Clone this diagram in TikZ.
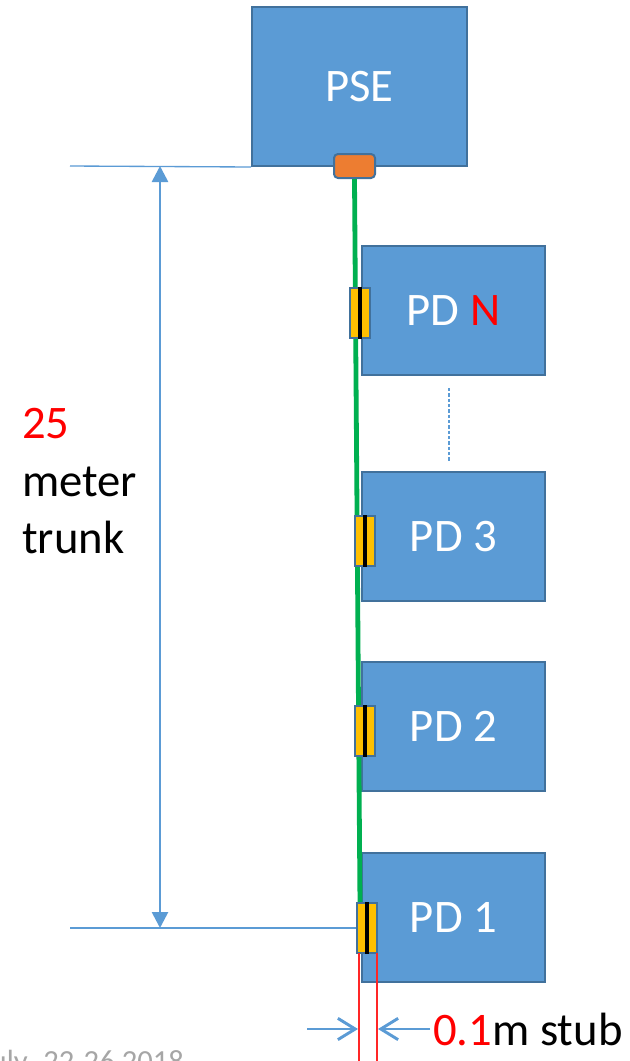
\documentclass[tikz,border=0pt]{standalone}
\usepackage{fontspec}
\setmainfont{Carlito}
\usetikzlibrary{arrows.meta}
\definecolor{boxblue}{HTML}{5B9BD5}
\definecolor{boxedge}{HTML}{41719C}
\definecolor{plugorange}{HTML}{ED7D31}
\definecolor{tapyellow}{HTML}{FFC000}
\definecolor{trunkgreen}{HTML}{00B050}
\definecolor{datagray}{HTML}{A6A6A6}
\tikzset{
  unitbox/.style={draw=boxedge, fill=boxblue, line width=1.5pt, inner sep=0pt,
    text=white, font=\fontsize{35}{42}\selectfont},
  psebox/.style={unitbox, minimum width=161.25pt, minimum height=119.25pt},
  pdbox/.style={unitbox, minimum width=137.25pt, minimum height=96.75pt},
  plug/.style={draw=boxedge, fill=plugorange, line width=1.5pt, rounded corners=3pt,
    minimum width=30.75pt, minimum height=18pt, inner sep=0pt},
  tap/.style={draw=boxedge, fill=tapyellow, line width=1.1pt,
    minimum width=15pt, minimum height=37.5pt, inner sep=0pt},
  tapbar/.style={line width=3pt, black},
  trunk/.style={trunkgreen, line width=3.6pt},
  extline/.style={boxblue, line width=1pt},
  dimarrow/.style={boxblue, line width=2pt, {Triangle[length=12pt,width=12pt]}-{Triangle[length=12pt,width=12pt]}},
  stubarrow/.style={boxblue, line width=2.2pt, -{Straight Barb[length=13pt,width=16pt,line width=2.2pt]}},
  stubline/.style={red!85!white, line width=1.1pt},
  bigtext/.style={font=\fontsize{35}{42}\selectfont, inner sep=0pt},
  datetext/.style={font=\fontsize{23}{28}\selectfont, text=datagray, inner sep=0pt},
}
\begin{document}
\begin{tikzpicture}[x=0.75pt, y=-0.75pt]
\useasboundingbox (0,0) rectangle (629,1061);
\clip (0,0) rectangle (629,1061);
\fill[white] (0,0) rectangle (629,1061);

% equipment boxes
\node[psebox] (pse) at (359.5,86.5) {PSE};
\node[pdbox] (pdn) at (453.5,310.5) {PD \textcolor{red}{N}};
\node[pdbox] (pd3) at (453.5,536.5) {PD 3};
\node[pdbox] (pd2) at (453.5,726.5) {PD 2};
\node[pdbox] (pd1) at (453.5,917) {PD 1};

% ellipsis between PD N and PD 3
\coordinate (gaptop) at (449,388);
\coordinate (gapbot) at (449,462);
\draw[boxblue, line width=0.8pt, dash pattern=on 2.5pt off 1.5pt] (gaptop) -- (gapbot);

% PSE port and trunk cable
\node[plug] (port) at (354.5,166) {};
\coordinate (trunkend) at (360,905);
\draw[trunk] (port.south) -- (trunkend);

% taps on the trunk
\foreach \n/\x/\y in {tn/360/313, t3/365/541, t2/365/731, t1/367/928} {
  \node[tap] (\n) at (\x,\y) {};
  \draw[tapbar] (\n.north) -- (\n.south);
}

% trunk length dimension
\coordinate (extT) at (70,166);
\coordinate (extB) at (70,928);
\draw[extline] (extT) -- (pse.south west);
\draw[extline] (extB) -- (t1.west);
\coordinate (dimT) at (160,166);
\coordinate (dimB) at (160,928);
\draw[dimarrow] (dimT) -- (dimB);

\node[bigtext, anchor=base west, text=red] (len) at (22,438) {25};
\node[bigtext, anchor=base west] (unit) at (22,496) {meter};
\node[bigtext, anchor=base west] (kind) at (22,553) {trunk};

% stub dimension
\coordinate (stubL) at (359,953);
\coordinate (stubR) at (377,953);
\coordinate (stubLb) at (359,1061);
\coordinate (stubRb) at (377,1061);
\draw[stubline] (stubL) -- (stubLb);
\draw[stubline] (stubR) -- (stubRb);
\coordinate (arrL) at (307,1029);
\coordinate (arrLtip) at (358,1029);
\coordinate (arrR) at (430,1029);
\coordinate (arrRtip) at (378,1029);
\draw[stubarrow] (arrL) -- (arrLtip);
\draw[stubarrow] (arrR) -- (arrRtip);
\node[bigtext, anchor=base west] (stub) at (433,1045) {\textcolor{red}{0.1}m stub};

% date footer, running off the lower edge
\node[datetext, anchor=base west] (date) at (43,1071) {22-26 2018};
\node[datetext, anchor=base east] (month) at (28,1071) {July};
\end{tikzpicture}
\end{document}
